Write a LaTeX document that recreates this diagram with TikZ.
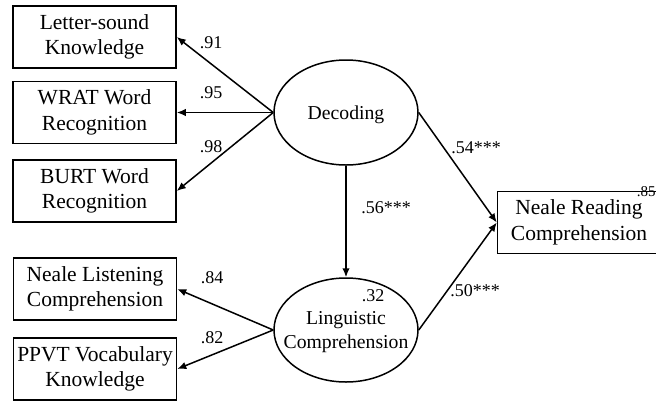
\documentclass[tikz,border=0pt]{standalone}
\usepackage{fontspec}
\setmainfont{Liberation Serif}
\usetikzlibrary{arrows.meta,shapes.geometric}
\begin{document}
\begin{tikzpicture}[x=1pt,y=-1pt,line width=1.5pt,
    measure/.style={shape=rectangle,draw=black,minimum width=163pt,minimum height=62pt,
      inner sep=0pt,align=center,font=\fontsize{21.5}{25.5}\selectfont},
    latent/.style={shape=ellipse,draw=black,minimum width=144pt,minimum height=105pt,
      inner sep=0pt,text depth=0pt,align=center,font=\fontsize{19.7}{24}\selectfont},
    coef/.style={font=\fontsize{18}{20}\selectfont,inner sep=0pt},
    path/.style={-{Latex[length=9pt,width=7.5pt]}}]
        \useasboundingbox (0,0) rectangle (656,405);
        \node[measure] (LS) at (94.5, 37) {Letter-sound\\Knowledge};
        \node[measure] (WRAT) at (94.5, 112.5) {WRAT Word\\Recognition};
        \node[measure] (BURT) at (94.5, 191) {BURT Word\\Recognition};
        \node[measure] (NL) at (95, 289) {Neale Listening\\Comprehension};
        \node[measure] (PPVT) at (95, 369) {PPVT Vocabulary\\Knowledge};
        \node[measure] (NR) at (579, 222.5) {Neale Reading\\Comprehension};
        \node[latent] (DEC) at (346, 112.5) {Decoding};
        \node[latent,inner xsep=-12pt,minimum height=104pt] (LING) at (346, 330) {Linguistic\\Comprehension};
        \draw[path] (DEC.west) -- (LS.east);
        \draw[path] (DEC.west) -- (WRAT.east);
        \draw[path] (DEC.west) -- (BURT.east);
        \draw[path] (LING.west) -- (NL.east);
        \draw[path] (LING.west) -- (PPVT.east);
        \draw[path] (DEC.south) -- (LING.north);
        \draw[path] (DEC.east) -- (NR.west);
        \draw[path] (LING.east) -- (NR.west);
        \node[coef] (l1) at (211, 43) {.91};
        \node[coef] (l2) at (211, 93) {.95};
        \node[coef] (l3) at (211, 147) {.98};
        \node[coef] (l4) at (212, 278) {.84};
        \node[coef] (l5) at (212, 338) {.82};
        \node[coef] (b1) at (476, 148) {.54***};
        \node[coef] (b2) at (386, 208) {.56***};
        \node[coef] (b3) at (475, 291) {.50***};
        \node[coef] (r1) at (373, 296) {.32};
        \node[coef,anchor=west,font=\fontsize{15}{16}\selectfont] (r2) at (636, 192) {.85};
    \end{tikzpicture}
\end{document}
